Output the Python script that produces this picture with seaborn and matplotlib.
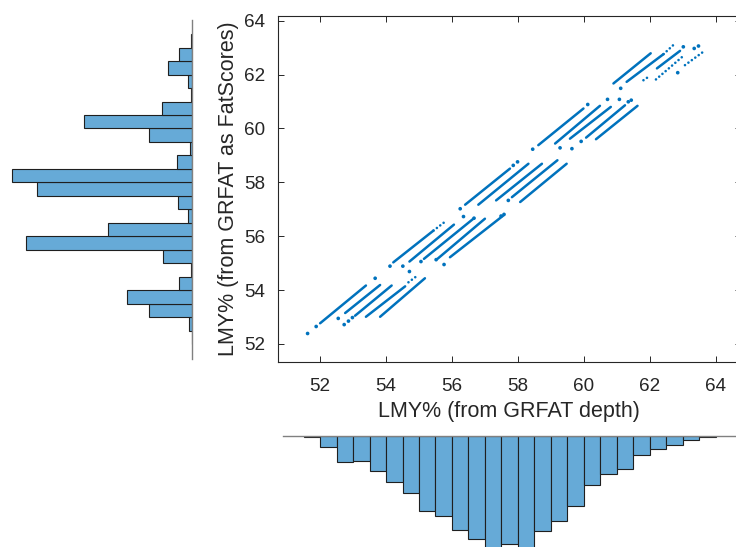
import numpy as np
import pandas as pd
import matplotlib
matplotlib.use("Agg")
import matplotlib.pyplot as plt
import seaborn as sns

# ---------------- data ----------------
# solid streaks of points (start / end of each streak)
streak_x0 = [52.00, 52.76, 53.06, 53.39, 53.82,
             54.22, 54.71, 55.15, 55.56, 55.94,
             56.40, 56.80, 57.34, 57.82, 58.07,
             58.62, 59.13, 59.58, 60.07, 60.37,
             60.90, 61.30, 62.22]
streak_y0 = [52.77, 53.15, 53.05, 53.01, 53.01,
             55.03, 55.06, 55.16, 55.16, 55.22,
             57.17, 57.17, 57.33, 57.45, 57.27,
             59.38, 59.44, 59.62, 59.66, 59.60,
             61.67, 61.73, 62.23]
streak_x1 = [53.39, 53.82, 54.17, 54.58, 55.18,
             55.44, 56.06, 56.65, 57.00, 57.56,
             57.76, 58.32, 58.73, 59.20, 59.48,
             59.99, 60.49, 60.82, 61.25, 61.63,
             62.03, 62.42, 62.92]
streak_y1 = [54.17, 54.19, 54.17, 54.14, 54.44,
             56.21, 56.43, 56.65, 56.65, 56.77,
             58.51, 58.69, 58.69, 58.82, 58.69,
             60.74, 60.84, 60.80, 60.86, 60.84,
             62.79, 62.76, 62.88]

# sparse (dotted) streaks
sparse_x0 = [54.68, 55.44, 62.42, 62.19, 63.07, 61.81]
sparse_y0 = [54.29, 56.21, 62.76, 61.82, 62.35, 61.79]
sparse_x1 = [54.92, 55.77, 62.72, 62.98, 63.63, 61.99]
sparse_y1 = [54.51, 56.52, 63.10, 62.65, 62.85, 61.94]

# isolated points
dot_x = [51.62, 51.88, 53.67, 52.55, 52.73, 52.86, 52.98,
         54.12, 54.51, 54.71, 55.06, 55.52, 55.76, 56.35, 56.67, 57.49, 57.58,
         56.25, 57.71, 57.86, 57.99,
         58.45, 59.28, 59.64, 59.92, 60.12, 60.72, 61.08, 61.35, 61.44,
         61.12, 62.85, 63.02, 63.35, 63.48]
dot_y = [52.39, 52.65, 54.44, 52.95, 52.72, 52.85, 52.98,
         54.89, 54.89, 54.69, 55.06, 55.13, 54.95, 56.73, 56.67, 56.75, 56.81,
         57.02, 57.33, 58.63, 58.76,
         59.23, 59.28, 59.25, 59.52, 60.89, 61.08, 61.08, 60.99, 61.05,
         61.49, 62.07, 63.03, 62.97, 63.06]

# marginal histogram of LMY% (from GRFAT as FatScores)
y_bin_edges = [52.0, 52.5, 53.0, 53.5, 54.0, 54.5, 55.0, 55.5, 56.0, 56.5, 57.0, 57.5,
               58.0, 58.5, 59.0, 59.5, 60.0, 60.5, 61.0, 61.5, 62.0, 62.5, 63.0, 63.5]
y_counts = [0.6, 3, 43.7, 65.7, 13.7, 1, 29.7, 166, 84, 4.7, 14.7, 155,
            180, 15.7, 2, 43.7, 108.7, 30.7, 1, 4.7, 24.7, 13, 1.5]

# marginal histogram of LMY% (from GRFAT depth)
x_bin_edges = [51.5, 52.0, 52.5, 53.0, 53.5, 54.0, 54.5, 55.0, 55.5, 56.0, 56.5, 57.0, 57.5,
               58.0, 58.5, 59.0, 59.5, 60.0, 60.5, 61.0, 61.5, 62.0, 62.5, 63.0, 63.5, 64.0]
x_counts = [1, 11, 26.3, 25.3, 35.3, 46.3, 57.3, 75, 80.3, 94.3, 103.3, 114, 107.7,
            116, 95.3, 85.3, 70.3, 49.3, 38.3, 33.3, 19, 13.3, 9, 4.3, 1]

x_ticks = [52, 54, 56, 58, 60, 62, 64]
y_ticks = [52, 54, 56, 58, 60, 62, 64]
xlabel = "LMY% (from GRFAT depth)"
ylabel = "LMY% (from GRFAT as FatScores)"

# ---------------- styling ----------------
sns.set_theme(style="white")
plt.rcParams["font.family"] = ["Liberation Sans", "DejaVu Sans"]
BLUE = "#0072BD"
BAR = "#66AAD7"
TXT = "#262626"

W, H = 736, 547
fig = plt.figure(figsize=(W / 100, H / 100), dpi=100)

def rect(x0, y0, x1, y1):
    return [x0 / W, 1 - y1 / H, (x1 - x0) / W, (y1 - y0) / H]

XLIM = (50.713, 64.77)
YLIM = (51.343, 64.174)

ax = fig.add_axes(rect(277.7, 16, 741, 361.7))
ax_l = fig.add_axes(rect(0, 16, 192.3, 361.7))
ax_b = fig.add_axes(rect(277.7, 436, 741, 547))

def seg_frame(x0, y0, x1, y1):
    rows = []
    for i in range(len(x0)):
        rows.append((x0[i], y0[i], i))
        rows.append((x1[i], y1[i], i))
    return pd.DataFrame(rows, columns=["x", "y", "seg"])

sns.lineplot(data=seg_frame(streak_x0, streak_y0, streak_x1, streak_y1),
             x="x", y="y", units="seg", estimator=None, sort=False,
             color=BLUE, lw=1.8, solid_capstyle="round", ax=ax, legend=False)
sns.lineplot(data=seg_frame(sparse_x0, sparse_y0, sparse_x1, sparse_y1),
             x="x", y="y", units="seg", estimator=None, sort=False,
             color=BLUE, lw=1.9, linestyle=(0, (0.01, 1.6)), dash_capstyle="round",
             ax=ax, legend=False)
sns.scatterplot(x=dot_x, y=dot_y, s=7, color=BLUE, edgecolor="none", linewidth=0, ax=ax)

ax.set_xlim(*XLIM)
ax.set_ylim(*YLIM)
ax.set_xticks(x_ticks)
ax.set_yticks(y_ticks)
ax.tick_params(direction="in", length=4, width=0.7, colors=TXT, labelsize=13.6,
               top=True, right=True, bottom=True, left=True, pad=9)
ax.tick_params(axis="x", pad=12)
for s in ax.spines.values():
    s.set_color(TXT)
    s.set_linewidth(0.8)
ax.set_xlabel(xlabel, fontsize=15.5, color=TXT, labelpad=4)
ax.set_ylabel(ylabel, fontsize=15.5, color=TXT, labelpad=3.5)
ax.grid(False)

# left marginal histogram (bars grow to the left)
y_centers = [(y_bin_edges[i] + y_bin_edges[i + 1]) / 2 for i in range(len(y_counts))]
sns.histplot(y=y_centers, weights=y_counts, bins=y_bin_edges, ax=ax_l,
             color=BAR, alpha=1, edgecolor="#1f1f1f", linewidth=0.8)
ax_l.set_ylim(*YLIM)
ax_l.set_xlim(192.3, 0)
for k in ["left", "top", "bottom"]:
    ax_l.spines[k].set_visible(False)
ax_l.spines["right"].set_color("#808080")
ax_l.spines["right"].set_linewidth(1.0)
ax_l.spines["right"].set_bounds(51.44, 64.03)
ax_l.set_xticks([]); ax_l.set_yticks([])
ax_l.set_xlabel(""); ax_l.set_ylabel("")
ax_l.patch.set_alpha(0)

# bottom marginal histogram (bars hang down)
x_centers = [(x_bin_edges[i] + x_bin_edges[i + 1]) / 2 for i in range(len(x_counts))]
sns.histplot(x=x_centers, weights=x_counts, bins=x_bin_edges, ax=ax_b,
             color=BAR, alpha=1, edgecolor="#1f1f1f", linewidth=0.8)
ax_b.set_xlim(*XLIM)
ax_b.set_ylim(111, 0)
for k in ["left", "right", "bottom"]:
    ax_b.spines[k].set_visible(False)
ax_b.spines["top"].set_color("#808080")
ax_b.spines["top"].set_linewidth(1.0)
ax_b.spines["top"].set_bounds(50.87, 64.77)
ax_b.set_xticks([]); ax_b.set_yticks([])
ax_b.set_xlabel(""); ax_b.set_ylabel("")
ax_b.patch.set_alpha(0)

fig.savefig("out.png", dpi=100)
